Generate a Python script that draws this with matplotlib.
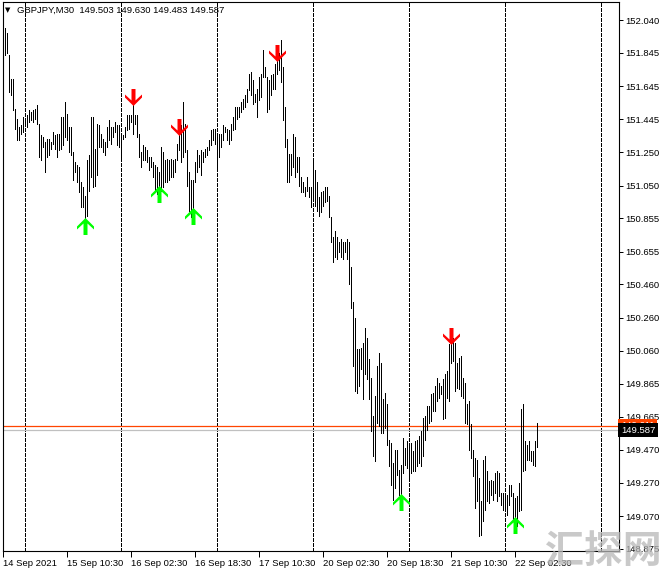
import numpy as np
import matplotlib
matplotlib.use('Agg')
import matplotlib.pyplot as plt
from matplotlib.path import Path
from matplotlib.transforms import ScaledTranslation, blended_transform_factory

# GBPJPY M30 bars (high / low), 14 Sep 2021 18:30 .. 22 Sep 2021 08:00

highs = [
    151.88, 151.99, 151.96, 151.83, 151.69, 151.69, 151.51, 151.45, 151.40, 151.41,
    151.46, 151.45, 151.47, 151.50, 151.49, 151.50, 151.51, 151.53, 151.42, 151.35,
    151.34, 151.31, 151.33, 151.33, 151.31, 151.37, 151.35, 151.36, 151.36, 151.46,
    151.46, 151.55, 151.48, 151.40, 151.40, 151.25, 151.19, 151.17, 151.16, 151.07,
    151.04, 150.99, 151.20, 151.23, 151.46, 151.46, 151.27, 151.42, 151.41, 151.36,
    151.33, 151.31, 151.40, 151.44, 151.40, 151.40, 151.43, 151.41, 151.41, 151.36,
    151.35, 151.40, 151.47, 151.47, 151.47, 151.53, 151.47, 151.47, 151.36, 151.25,
    151.29, 151.28, 151.26, 151.22, 151.22, 151.19, 151.17, 151.16, 151.13, 151.28,
    151.25, 151.20, 151.21, 151.20, 151.21, 151.20, 151.21, 151.30, 151.40, 151.41,
    151.55, 151.42, 151.26, 151.13, 151.08, 151.08, 151.19, 151.26, 151.23, 151.26,
    151.25, 151.27, 151.28, 151.32, 151.38, 151.39, 151.39, 151.36, 151.36, 151.36,
    151.41, 151.40, 151.39, 151.38, 151.42, 151.46, 151.52, 151.52, 151.52, 151.55,
    151.57, 151.59, 151.63, 151.72, 151.73, 151.68, 151.60, 151.63, 151.70, 151.72,
    151.86, 151.76, 151.70, 151.68, 151.71, 151.72, 151.78, 151.82, 151.84, 151.92,
    151.76, 151.52, 151.33, 151.24, 151.24, 151.36, 151.34, 151.22, 151.22, 151.10,
    151.07, 151.04, 151.10, 151.04, 151.04, 151.19, 151.14, 151.07, 150.98, 151.01,
    151.02, 151.04, 151.04, 150.99, 150.86, 150.74, 150.78, 150.74, 150.71, 150.73,
    150.71, 150.71, 150.73, 150.71, 150.56, 150.35, 150.26, 150.07, 150.07, 150.08,
    150.11, 150.20, 150.14, 150.01, 149.90, 149.67, 149.79, 149.97, 150.05, 149.99,
    149.77, 149.81, 149.74, 149.53, 149.51, 149.39, 149.47, 149.47, 149.35, 149.38,
    149.54, 149.48, 149.52, 149.50, 149.51, 149.46, 149.52, 149.53, 149.55, 149.58,
    149.66, 149.67, 149.73, 149.73, 149.80, 149.81, 149.85, 149.90, 149.87, 149.85,
    149.89, 149.92, 149.94, 150.10, 150.11, 150.14, 150.11, 149.99, 150.02, 150.03,
    149.90, 149.87, 149.74, 149.76, 149.62, 149.47, 149.42, 149.41, 149.30, 149.16,
    149.41, 149.43, 149.34, 149.28, 149.29, 149.28, 149.33, 149.34, 149.33, 149.21,
    149.21, 149.19, 149.20, 149.26, 149.26, 149.21, 149.18, 149.19, 149.27, 149.71,
    149.74, 149.52, 149.50, 149.52, 149.46, 149.46, 149.52, 149.630,
]

lows = [
    151.76, 151.83, 151.84, 151.61, 151.59, 151.50, 151.39, 151.32, 151.32, 151.36,
    151.37, 151.42, 151.40, 151.43, 151.44, 151.43, 151.45, 151.42, 151.22, 151.20,
    151.28, 151.13, 151.22, 151.23, 151.27, 151.30, 151.27, 151.22, 151.26, 151.27,
    151.29, 151.34, 151.32, 151.25, 151.23, 151.08, 151.13, 151.07, 151.01, 150.92,
    150.92, 150.83, 150.87, 151.02, 151.10, 151.04, 151.05, 151.11, 151.28, 151.28,
    151.25, 151.23, 151.28, 151.32, 151.30, 151.34, 151.37, 151.29, 151.28, 151.20,
    151.33, 151.34, 151.38, 151.39, 151.43, 151.36, 151.42, 151.34, 151.22, 151.16,
    151.20, 151.20, 151.19, 151.14, 151.16, 151.10, 151.01, 151.00, 151.05, 151.02,
    151.04, 151.07, 151.07, 151.08, 151.10, 151.10, 151.13, 151.20, 151.26, 151.19,
    151.22, 151.25, 151.05, 150.90, 150.86, 150.89, 151.07, 151.13, 151.16, 151.11,
    151.19, 151.22, 151.23, 151.26, 151.29, 151.32, 151.30, 151.16, 151.22, 151.28,
    151.32, 151.37, 151.32, 151.30, 151.32, 151.38, 151.39, 151.45, 151.46, 151.49,
    151.51, 151.52, 151.55, 151.62, 151.59, 151.54, 151.55, 151.46, 151.56, 151.58,
    151.70, 151.70, 151.49, 151.51, 151.59, 151.63, 151.63, 151.72, 151.74, 151.67,
    151.44, 151.28, 151.07, 151.07, 151.11, 151.16, 151.10, 151.13, 151.05, 151.01,
    151.01, 150.99, 151.02, 150.98, 150.92, 150.96, 150.93, 150.90, 150.87, 150.89,
    150.93, 150.95, 150.96, 150.86, 150.71, 150.59, 150.62, 150.61, 150.65, 150.62,
    150.61, 150.65, 150.61, 150.46, 150.32, 149.97, 149.82, 149.81, 149.85, 149.95,
    149.77, 149.92, 149.89, 149.77, 149.58, 149.43, 149.40, 149.63, 149.61, 149.57,
    149.57, 149.60, 149.50, 149.37, 149.26, 149.17, 149.24, 149.32, 149.20, 149.17,
    149.33, 149.38, 149.36, 149.29, 149.33, 149.34, 149.34, 149.37, 149.39, 149.37,
    149.43, 149.53, 149.59, 149.63, 149.64, 149.70, 149.70, 149.76, 149.78, 149.80,
    149.65, 149.66, 149.78, 149.76, 149.99, 150.00, 149.82, 149.84, 149.83, 149.79,
    149.78, 149.63, 149.62, 149.47, 149.42, 149.31, 149.12, 149.16, 148.95, 148.96,
    149.04, 149.11, 149.16, 149.15, 149.20, 149.17, 149.21, 149.16, 149.19, 149.14,
    149.11, 149.10, 149.08, 149.14, 149.19, 149.05, 149.04, 149.01, 149.10, 149.11,
    149.34, 149.35, 149.41, 149.41, 149.40, 149.38, 149.37, 149.483,
]

# indicator arrows (bar index, price of the arrow tip)
sell_bars = [65, 88, 137, 224]
sell_prices = [151.53, 151.35, 151.79, 150.10]
buy_bars = [41, 78, 95, 199, 256]
buy_prices = [150.86, 151.05, 150.92, 149.21, 149.07]

bid = 149.587
ask = 149.611
header = 'GBPJPY,M30  149.503 149.630 149.483 149.587'

price_ticks = [152.040, 151.845, 151.645, 151.445, 151.250, 151.050, 150.855, 150.655,
               150.460, 150.260, 150.060, 149.865, 149.665, 149.470, 149.270, 149.070, 148.875]
time_ticks = [0, 32, 64, 96, 128, 160, 192, 224, 256]
time_labels = ['14 Sep 2021', '15 Sep 10:30', '16 Sep 02:30', '16 Sep 18:30', '17 Sep 10:30',
               '20 Sep 02:30', '20 Sep 18:30', '21 Sep 10:30', '22 Sep 02:30']

plt.rcParams['font.family'] = ['Liberation Sans', 'DejaVu Sans']
fs = 6.8

fig = plt.figure(figsize=(6.65, 5.72), dpi=100)
ax = fig.add_axes([3/665, 21/572, 616/665, 549/572])

n = len(highs)
idx = np.arange(n)

# day separators
for g in range(11, 308, 48):
    ax.axvline(g, color='black', lw=0.72, ls=(0, (3, 2)), antialiased=False, zorder=1)

ax.vlines(idx, lows, highs, colors='black', linewidth=0.72, antialiased=False, zorder=3)

ax.axhline(bid, color='#c0c0c0', lw=0.9, zorder=2)
ax.axhline(ask, color='#ff4500', lw=0.9, zorder=2)

ax.set_xlim(-0.15, 307.85)
ax.set_ylim(148.863, 152.148)

# arrows
v = np.array([(0, 0), (8.5, 8.5), (8.5, 11.5), (2, 5.5), (2, 17), (-2, 17), (-2, 5.5),
              (-8.5, 11.5), (-8.5, 8.5), (0, 0)], float)
v[:, 1] -= 8.5
down_arrow = Path(v, closed=True)
up_arrow = Path(v * [1, -1], closed=True)
off_up = ScaledTranslation(0, 8.5/100, fig.dpi_scale_trans)
off_dn = ScaledTranslation(0, -8.5/100, fig.dpi_scale_trans)
ax.plot(sell_bars, sell_prices, ls='none', marker=down_arrow, ms=12.24, mfc='#ff0000',
        mec='none', transform=ax.transData + off_up, zorder=4, clip_on=False)
ax.plot(buy_bars, buy_prices, ls='none', marker=up_arrow, ms=12.24, mfc='#00ff00',
        mec='none', transform=ax.transData + off_dn, zorder=4, clip_on=False)

# axes look
for s in ax.spines.values():
    s.set_color('black')
    s.set_linewidth(0.8)
ax.yaxis.tick_right()
ax.set_yticks(price_ticks)
ax.set_yticklabels([f'{p:.3f}' for p in price_ticks])
ax.tick_params(axis='y', direction='out', length=3, width=0.72, pad=1.5, labelsize=fs)
ax.set_xticks(time_ticks)
ax.set_xticklabels(time_labels, ha='left')
ax.tick_params(axis='x', direction='out', length=4, width=0.72, pad=1.5, labelsize=fs)

# price labels on the scale
trans = blended_transform_factory(ax.transAxes, ax.transData)
ax.text(1.003, ask, f'{ask:.3f}', transform=trans, ha='left', va='center', color='white',
        fontsize=fs, bbox=dict(boxstyle='square,pad=0.25', fc='#ff4500', ec='none'),
        zorder=6, clip_on=False)
ax.text(1.003, bid, f'{bid:.3f}', transform=trans, ha='left', va='center', color='white',
        fontsize=fs, bbox=dict(boxstyle='square,pad=0.25', fc='black', ec='none'),
        zorder=7, clip_on=False)

fig.text(5/665, 1 - 10/572, '\u25bc', fontsize=5, va='center', ha='left', family=['DejaVu Sans'])
fig.text(17/665, 1 - 10/572, header, fontsize=fs, va='center', ha='left')

fig.text(603/665, 20/572, '汇探网', fontsize=28, family=['Noto Sans CJK SC'], weight='bold',
         color='#b8b8b8', alpha=0.75, ha='center', va='center', zorder=10)

fig.savefig('out.png', dpi=100, facecolor='white')
